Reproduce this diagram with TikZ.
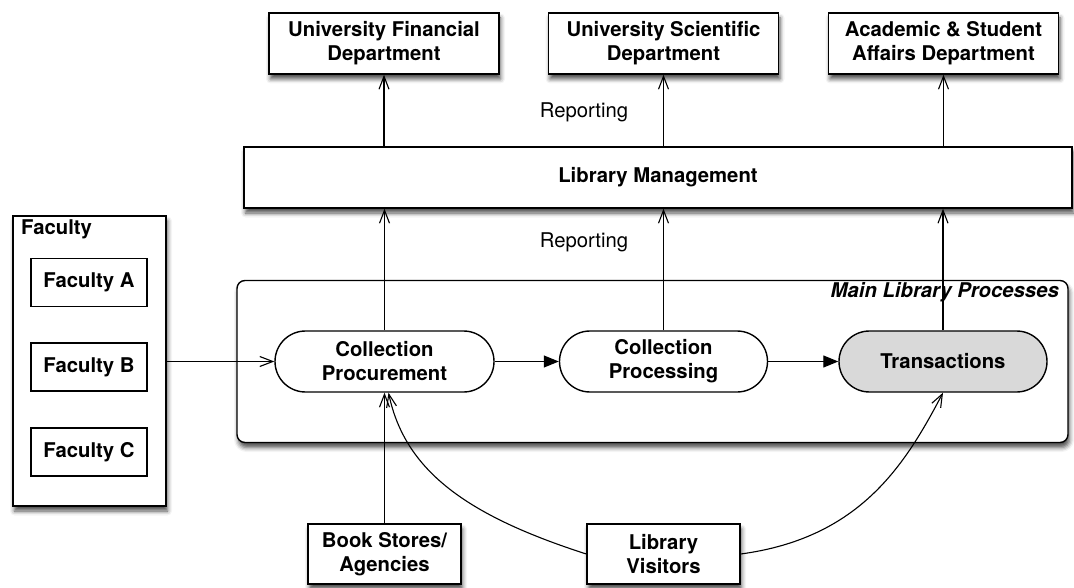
\documentclass[tikz,border=0pt]{standalone}
\usepackage{fontspec}
\setmainfont{TeX Gyre Heros}
\usetikzlibrary{arrows.meta,shadows.blur,shapes.misc,calc}
\begin{document}
\begin{tikzpicture}[x=1pt,y=-1pt,
  txt/.style={font=\fontsize{20.3}{24}\selectfont},
  bx/.style={draw, line width=1.4pt, fill=white, align=center, inner sep=0pt,
     font=\bfseries\fontsize{20.3}{24}\selectfont},
  shd/.style={blur shadow={shadow xshift=1.5pt, shadow yshift=-5pt, shadow blur radius=4.5pt, shadow opacity=70}},
  topbox/.style={bx, shd, minimum width=230pt, minimum height=61pt},
  facbox/.style={bx, minimum width=116pt, minimum height=48pt},
  proc/.style={bx, rounded rectangle, minimum height=61pt},
  botbox/.style={bx, shd, minimum width=153pt, minimum height=60pt},
  conn/.style={line width=1.1pt, -{Straight Barb[length=13pt,width=10pt]}},
  flow/.style={line width=1.1pt, -{Triangle[length=15pt,width=12pt]}}
]
\useasboundingbox (0,0) rectangle (1074,588);

% top departments
\node[topbox] (ufd) at (384,43.5) {University Financial\\Department};
\node[topbox] (usd) at (663.5,43.5) {University Scientific\\Department};
\node[topbox] (asa) at (943.5,43.5) {Academic \& Student\\Affairs Department};

% library management
\node[bx, shd, minimum width=828pt, minimum height=61pt] (lm) at (658,177.5) {Library Management};

\node[txt] (rep1) at (584,112) {Reporting};
\node[txt] (rep2) at (584,242) {Reporting};

% main library processes container
\node[draw, line width=1.4pt, fill=white, rounded corners=8pt, shd,
      minimum width=831pt, minimum height=162pt, inner sep=0pt] (main) at (652.5,361.5) {};
\node[anchor=east, inner sep=0pt, font=\bfseries\itshape\fontsize{20.3}{24}\selectfont]
   (mainlbl) at (1059,292) {Main Library Processes};

\node[proc, minimum width=219pt] (cp) at (384.5,361.5) {Collection\\Procurement};
\node[proc, minimum width=208pt] (cpr) at (663.5,361.5) {Collection\\Processing};
\node[proc, minimum width=208pt, fill=black!15] (tr) at (943,361.5) {Transactions};

% faculty container
\node[draw, line width=1.4pt, fill=white, shd, minimum width=153pt, minimum height=290pt, inner sep=0pt]
   (fac) at (89.5,361) {};
\node[anchor=west, inner sep=0pt, font=\bfseries\fontsize{20.3}{24}\selectfont]
   (faclbl) at (21,229) {Faculty};
\node[facbox] (fa) at (89,282.5) {Faculty A};
\node[facbox] (fb) at (89,367) {Faculty B};
\node[facbox] (fc) at (89,452) {Faculty C};

% bottom
\node[botbox] (bs) at (384.5,554) {Book Stores/\\Agencies};
\node[botbox] (lv) at (663.5,554) {Library\\Visitors};

% connectors
\draw[conn] (ufd.south |- lm.north) -- (ufd.south);
\draw[conn] (usd.south |- lm.north) -- (usd.south);
\draw[conn] (asa.south |- lm.north) -- (asa.south);

\draw[conn] (cp.north) -- (cp.north |- lm.south);
\draw[conn] (cpr.north) -- (cpr.north |- lm.south);
\draw[conn] (tr.north) -- (tr.north |- lm.south);

\draw[conn] (fac.east |- cp.west) -- (cp.west);
\draw[flow] (cp.east) -- (cpr.west);
\draw[flow] (cpr.east) -- (tr.west);

\draw[conn] (bs.north) -- (bs.north |- cp.south);
\coordinate (cpin) at ($(cp.south)+(4,0)$);
\draw[conn] (lv.west) .. controls (465,515) and (405,470) .. (cpin);
\draw[conn] (lv.east) .. controls (860,538) and (905,465) .. (tr.south);
\end{tikzpicture}
\end{document}
